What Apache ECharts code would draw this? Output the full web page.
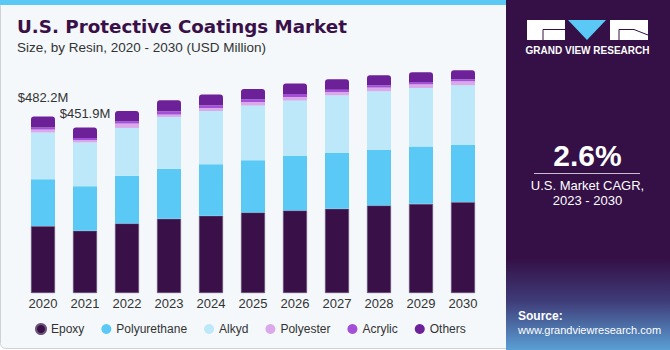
<!DOCTYPE html>
<html>
<head>
<meta charset="utf-8">
<script src="https://cdn.jsdelivr.net/npm/echarts@6/dist/echarts.min.js"></script>
<style>
  html, body { margin: 0; padding: 0; background: #ffffff; }
  #chart { width: 670px; height: 350px; }
</style>
</head>
<body>
<div id="chart"></div>
<script>
// data (USD Million)
var years = ['2020', '2021', '2022', '2023', '2024', '2025', '2026', '2027', '2028', '2029', '2030'];
var epoxy = [182.7, 169.9, 190.1, 202.6, 210.8, 220.1, 225.5, 229.9, 239.2, 243.5, 248.2];
var polyurethane = [128.2, 121.9, 129.8, 136.4, 141.0, 142.6, 148.9, 152.7, 151.6, 156.5, 156.3];
var alkyd = [127.3, 119.2, 130.9, 141.8, 145.3, 149.2, 151.1, 157.3, 160.1, 159.8, 162.8];
var polyester = [8.2, 6.3, 12.0, 6.5, 8.2, 9.8, 9.8, 9.0, 10.1, 10.1, 10.9];
var acrylic = [5.5, 6.3, 6.3, 9.0, 7.4, 7.4, 8.2, 6.5, 6.3, 6.3, 5.5];
var others = [30.3, 28.3, 28.1, 30.0, 29.2, 28.1, 28.4, 28.1, 27.3, 26.5, 24.5];
var totalLabels = ['$482.2M', '$451.9M'];

var FONT = '"Liberation Sans", Arial, sans-serif';

var dom = document.getElementById('chart');
var myChart = echarts.init(dom, null, { renderer: 'svg' });

function makeSeries(name, values, color, extra) {
    var s = {
        name: name,
        type: 'bar',
        stack: 'total',
        barWidth: 24,
        data: values,
        itemStyle: { color: color },
        emphasis: { disabled: true }
    };
    if (extra) {
        for (var k in extra) s[k] = extra[k];
    }
    return s;
}

// only the first two bars carry a total label
var othersData = others.map(function(v, i) {
    if (i < totalLabels.length) {
        return {
            value: v,
            label: {
                show: true,
                position: 'top',
                distance: i === 0 ? 12 : 8,
                formatter: totalLabels[i],
                fontFamily: FONT,
                fontSize: 13,
                color: '#333333'
            }
        };
    }
    return v;
});

var option = {
    animation: false,
    backgroundColor: 'transparent',
    textStyle: { fontFamily: FONT },
    grid: {
        left: 22,
        right: 186,
        top: 55,
        bottom: 57
    },
    legend: {
        left: 30,
        top: 318,
        icon: 'circle',
        itemWidth: 10,
        itemHeight: 10,
        itemGap: 17,
        textStyle: { fontFamily: FONT, fontSize: 12, color: '#333333' },
        data: ['Epoxy', 'Polyurethane', 'Alkyd', 'Polyester', 'Acrylic', 'Others']
    },
    xAxis: {
        type: 'category',
        data: years,
        axisLine: { show: false },
        axisTick: { show: false },
        axisLabel: { margin: 4, fontSize: 13, color: '#333333', fontFamily: FONT }
    },
    yAxis: {
        type: 'value',
        min: 0,
        max: 650,
        show: false,
        splitLine: { show: false }
    },
    series: [
        makeSeries('Epoxy', epoxy, '#3a1048', { itemStyle: { color: '#3a1048', borderColor: '#6a5478', borderWidth: 0.6 } }),
        makeSeries('Polyurethane', polyurethane, '#5bc9f6'),
        makeSeries('Alkyd', alkyd, '#bde8f9'),
        makeSeries('Polyester', polyester, '#d9a9ea'),
        makeSeries('Acrylic', acrylic, '#a44fd8'),
        makeSeries('Others', othersData, '#6d2199', { itemStyle: { color: '#6d2199', borderRadius: [3, 3, 0, 0] } })
    ],
    graphic: [
        // chart card
        { type: 'rect', z: -10, shape: { x: 0.5, y: 0.5, width: 520, height: 348, r: 5 },
          style: { fill: '#f4f8fb', stroke: '#cfd3d6', lineWidth: 1 } },
        { type: 'rect', z: -9, shape: { x: 0, y: 0, width: 670, height: 5 },
          style: { fill: '#5bc9f6' } },
        // title
        { type: 'text', left: 17, top: 17,
          style: { text: 'U.S. Protective Coatings Market', fontFamily: '"DejaVu Sans", sans-serif', fontSize: 18.3, fontWeight: 'bold', fill: '#3a1048' } },
        { type: 'text', left: 17, top: 40,
          style: { text: 'Size, by Resin, 2020 - 2030 (USD Million)', fontFamily: FONT, fontSize: 13.5, fill: '#333333' } },
        // right panel
        { type: 'rect', z: -5, shape: { x: 506, y: 0, width: 164, height: 350 },
          style: {
              fill: new echarts.graphic.LinearGradient(0, 0, 0, 1, [
                  { offset: 0, color: '#341046' },
                  { offset: 0.74, color: '#341046' },
                  { offset: 0.86, color: '#3f3c78' },
                  { offset: 1, color: '#5a9fd4' }
              ])
          } },
        // logo
        { type: 'rect', shape: { x: 527, y: 20, width: 38, height: 20 }, style: { fill: '#ffffff' } },
        { type: 'polyline', shape: { points: [[543, 40], [543, 29.5], [565, 29.5]] },
          style: { stroke: '#341046', lineWidth: 1, fill: null } },
        { type: 'polygon', shape: { points: [[568, 20], [606, 20], [587, 40]] }, style: { fill: '#5bc9f6' } },
        { type: 'rect', shape: { x: 610, y: 20, width: 38, height: 20 }, style: { fill: '#ffffff' } },
        { type: 'polyline', shape: { points: [[619, 40], [619, 29.5], [634, 29.5], [648, 35]] },
          style: { stroke: '#341046', lineWidth: 1, fill: null } },
        { type: 'text', x: 587.5, y: 50.5,
          style: { text: 'GRAND VIEW RESEARCH', fontFamily: FONT, fontSize: 10, fontWeight: 'bold', fill: '#ffffff',
                   align: 'center', verticalAlign: 'middle' } },
        // CAGR
        { type: 'text', x: 587.5, y: 155,
          style: { text: '2.6%', fontFamily: FONT, fontSize: 30, fontWeight: 'bold', fill: '#ffffff',
                   align: 'center', verticalAlign: 'middle' } },
        { type: 'line', shape: { x1: 534, y1: 173.5, x2: 640, y2: 173.5 },
          style: { stroke: '#c9bfd0', lineWidth: 1 } },
        { type: 'text', x: 587.5, y: 185,
          style: { text: 'U.S. Market CAGR,', fontFamily: FONT, fontSize: 13, fill: '#ffffff',
                   align: 'center', verticalAlign: 'middle' } },
        { type: 'text', x: 587.5, y: 200.5,
          style: { text: '2023 - 2030', fontFamily: FONT, fontSize: 13, fill: '#ffffff',
                   align: 'center', verticalAlign: 'middle' } },
        // source
        { type: 'text', x: 518, y: 316,
          style: { text: 'Source:', fontFamily: FONT, fontSize: 12, fontWeight: 'bold', fill: '#ffffff',
                   verticalAlign: 'middle' } },
        { type: 'text', x: 518, y: 329.5,
          style: { text: 'www.grandviewresearch.com', fontFamily: FONT, fontSize: 11, fill: '#ffffff',
                   verticalAlign: 'middle' } }
    ]
};

if (option && typeof option === 'object') {
    myChart.setOption(option);
}
</script>
</body>
</html>
